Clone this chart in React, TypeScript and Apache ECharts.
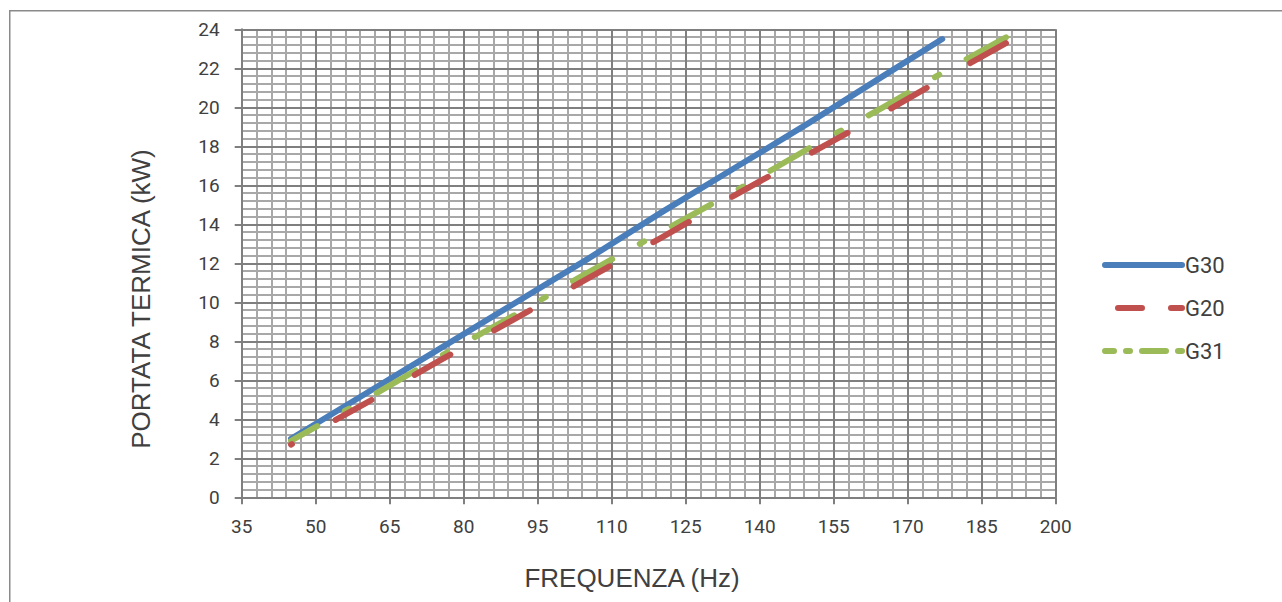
import React, { useEffect, useRef } from "react";
import * as echarts from "echarts";

// ---- data ----
const xTicks = [35, 50, 65, 80, 95, 110, 125, 140, 155, 170, 185, 200];
const yTicks = [0, 2, 4, 6, 8, 10, 12, 14, 16, 18, 20, 22, 24];

const freqG30 = [45, 60, 75, 90, 105, 120, 135, 150, 165, 177];
const kwG30 = [3.0, 5.3, 7.6, 9.9, 12.2, 14.6, 16.9, 19.2, 21.6, 23.5];

const freqG20 = [45, 60, 75, 90, 105, 120, 135, 150, 165, 180, 190];
const kwG20 = [2.7, 4.8, 7.0, 9.1, 11.2, 13.3, 15.5, 17.6, 19.7, 21.9, 23.3];

const freqG31 = [45, 60, 75, 90, 105, 120, 135, 150, 165, 180, 190];
const kwG31 = [2.9, 5.0, 7.2, 9.3, 11.5, 13.6, 15.7, 17.9, 20.0, 22.2, 23.6];

const seriesNames = ["G30", "G20", "G31"];
const xTitle = "FREQUENZA (Hz)";
const yTitle = "PORTATA TERMICA (kW)";

const pairs = (xs: number[], ys: number[]) => xs.map((x, i) => [x, ys[i]]);

const TEXT = "#404040";
const MAJOR = "#7f7f7f";
const MINOR = "#a8a8a8";
const FONT = "Roboto";

export default function App() {
  const ref = useRef<HTMLDivElement>(null);
  useEffect(() => {
    if (!ref.current) return;
    const chart = echarts.init(ref.current, undefined, { renderer: "svg" });
    const grid = { left: 241.7, top: 29.3, width: 814, height: 468 };
    const xBase = {
      type: "value",
      position: "bottom",
      min: xTicks[0],
      max: xTicks[xTicks.length - 1],
      interval: 15,
      gridIndex: 0,
    };
    const yBase = {
      type: "value",
      position: "left",
      min: yTicks[0],
      max: yTicks[yTicks.length - 1],
      interval: 2,
      gridIndex: 0,
    };
    const hidden = {
      axisLine: { show: false },
      axisTick: { show: false },
      axisLabel: { show: false },
      splitLine: { show: false },
    };
    chart.setOption({
      animation: false,
      grid,
      xAxis: [
        {
          ...xBase,
          ...hidden,
          z: 0,
          minorTick: { show: false, splitNumber: 5 },
          minorSplitLine: { show: true, lineStyle: { color: MINOR, width: 2 } },
        },
        {
          ...xBase,
          offset: 0,
          z: 1,
          axisLine: { show: true, onZero: false, lineStyle: { color: MAJOR, width: 2 } },
          axisTick: { show: true, length: 7, lineStyle: { color: MAJOR, width: 2 } },
          axisLabel: { margin: 20, fontSize: 19, color: TEXT, fontFamily: FONT },
          splitLine: { show: true, lineStyle: { color: MAJOR, width: 2 } },
        },
      ],
      yAxis: [
        {
          ...yBase,
          ...hidden,
          z: 0,
          minorTick: { show: false, splitNumber: 5 },
          minorSplitLine: { show: true, lineStyle: { color: MINOR, width: 2 } },
        },
        {
          ...yBase,
          offset: 0,
          z: 1,
          axisLine: { show: true, onZero: false, lineStyle: { color: MAJOR, width: 2 } },
          axisTick: { show: true, length: 7, lineStyle: { color: MAJOR, width: 2 } },
          axisLabel: { margin: 22, fontSize: 19, color: TEXT, fontFamily: FONT },
          splitLine: { show: true, lineStyle: { color: MAJOR, width: 2 } },
        },
      ],
      legend: {
        orient: "vertical",
        left: 1102,
        top: 254,
        padding: 0,
        itemWidth: 77,
        itemHeight: 22,
        itemGap: 21,
        itemStyle: { opacity: 0 },
        textStyle: { fontSize: 22, color: TEXT, fontFamily: FONT, padding: [0, 0, 0, -2] },
        data: [
          { name: seriesNames[0], lineStyle: { width: 6, cap: "round", type: "solid" } },
          { name: seriesNames[1], lineStyle: { width: 6, cap: "round", type: [24, 29] } },
          { name: seriesNames[2], lineStyle: { width: 6, cap: "round", type: [24, 12, 4, 12] } },
        ],
      },
      series: [
        {
          name: seriesNames[0],
          type: "line",
          data: pairs(freqG30, kwG30),
          symbol: "none",
          z: 3,
          color: "#4a7ebb",
          lineStyle: { color: "#4a7ebb", width: 6, cap: "round", join: "round" },
        },
        {
          name: seriesNames[1],
          type: "line",
          data: pairs(freqG20, kwG20),
          symbol: "none",
          z: 5,
          color: "#c0504d",
          lineStyle: { color: "#c0504d", width: 6, cap: "round", join: "round", type: [41, 50], dashOffset: 39.6 },
        },
        {
          name: seriesNames[2],
          type: "line",
          data: pairs(freqG31, kwG31),
          symbol: "none",
          z: 4,
          color: "#9bbb59",
          lineStyle: { color: "#9bbb59", width: 6, cap: "round", join: "round", type: [45, 31.5, 5, 31.5], dashOffset: 14.6 },
        },
      ],
      graphic: [
        {
          type: "rect",
          silent: true,
          z: -10,
          shape: { x: 9.75, y: 10.75, width: 1400, height: 700 },
          style: { fill: "none", stroke: "#8a8a8a", lineWidth: 1.5 },
        },
        {
          type: "text",
          silent: true,
          x: 141,
          y: 299,
          rotation: Math.PI / 2,
          style: {
            text: yTitle,
            fontSize: 26,
            fontFamily: "Liberation Sans",
            fill: TEXT,
            align: "center",
            verticalAlign: "middle",
          },
        },
        {
          type: "text",
          silent: true,
          x: 632,
          y: 578,
          style: {
            text: xTitle,
            fontSize: 26,
            fontFamily: "Liberation Sans",
            fill: TEXT,
            align: "center",
            verticalAlign: "middle",
          },
        },
      ],
    });
    return () => chart.dispose();
  }, []);
  return (
    <div
      ref={ref}
      style={{ position: "absolute", left: 0, top: 0, width: 1282, height: 602, background: "#fff" }}
    />
  );
}
